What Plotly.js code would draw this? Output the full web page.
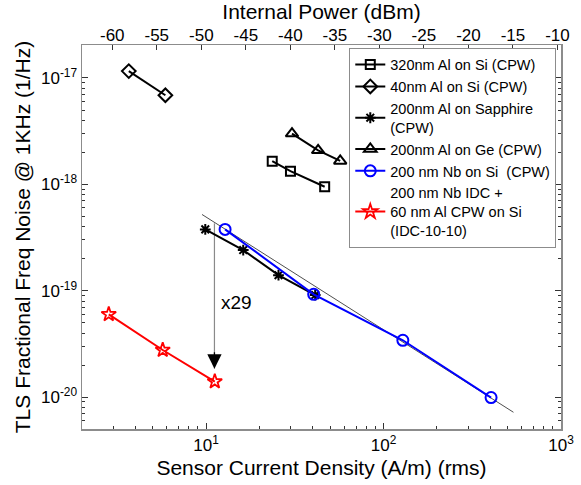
<!DOCTYPE html>
<html>
<head>
<meta charset="utf-8">
<script src="https://cdn.plot.ly/plotly-3.0.1.min.js"></script>
<style>html,body{margin:0;padding:0;background:#fff;}#chart{width:581px;height:485px;}</style>
</head>
<body>
<div id="chart"></div>
<script>
// ---- data ----
const al320X = [23.6, 29.9, 46.6];
const al320Y = [1.65e-18, 1.33e-18, 9.5e-19];

const al40X = [3.67, 5.90];
const al40Y = [1.16e-17, 6.88e-18];

const sapphireX = [9.9, 16.2, 25.6, 41.2];
const sapphireY = [3.77e-19, 2.41e-19, 1.40e-19, 9.1e-20];

const geX = [30.5, 42.8, 57.0];
const geY = [3.0e-18, 2.09e-18, 1.66e-18];

const nbX = [12.8, 40.4, 128.5, 403.6];
const nbY = [3.77e-19, 9.25e-20, 3.42e-20, 9.9e-21];

const idcX = [2.83, 5.70, 11.2];
const idcY = [6.0e-20, 2.77e-20, 1.40e-20];

const fitX = [9.49, 539.5];
const fitY = [5.21e-19, 7.2e-21];

const arrowX = [11.15, 11.15];
const arrowY = [4.3e-19, 1.85e-20];
const ratioLabel = 'x29';

const xTickVals = [10, 100, 1000];
const xTickText = ['10<sup>1</sup>', '10<sup>2</sup>', '10<sup>3</sup>'];
const yTickVals = [1e-20, 1e-19, 1e-18, 1e-17];
const yTickText = ['10<sup>-20</sup>', '10<sup>-19</sup>', '10<sup>-18</sup>', '10<sup>-17</sup>'];
const dbmTickVals = [-60, -55, -50, -45, -40, -35, -30, -25, -20, -15, -10];
const dbmTickText = ['-60', '-55', '-50', '-45', '-40', '-35', '-30', '-25', '-20', '-15', '-10'];

const names = [
  '320nm Al on Si (CPW)',
  '40nm Al on Si (CPW)',
  '200nm Al on Sapphire<br>(CPW)',
  '200nm Al on Ge (CPW)',
  '200 nm Nb on Si  (CPW)',
  '200 nm Nb IDC +<br>60 nm Al CPW on Si<br>(IDC-10-10)'
];

// ---- chart ----
const FONT = 'Arial, "Liberation Sans", sans-serif';
const frame = '#8c8c8c';

function series(x, y, name, color, symbol, size, mlw) {
  return {
    x: x, y: y, name: name, type: 'scatter', mode: 'lines+markers',
    line: {color: color, width: 2},
    marker: {symbol: symbol, size: size, color: color, line: {color: color, width: mlw}},
    hoverinfo: 'x+y'
  };
}

const traces = [
  {x: fitX, y: fitY, type: 'scatter', mode: 'lines', line: {color: '#000', width: 0.7},
   showlegend: false, hoverinfo: 'skip'},
  {x: arrowX, y: arrowY, type: 'scatter', mode: 'lines', line: {color: '#8a8a8a', width: 1.2},
   showlegend: false, hoverinfo: 'skip'},
  series(al320X, al320Y, names[0], '#000', 'square-open', 9, 2),
  series(al40X, al40Y, names[1], '#000', 'diamond-open', 10.5, 2),
  series(sapphireX, sapphireY, names[2], '#000', 'asterisk-open', 9, 2),
  series(geX, geY, names[3], '#000', 'triangle-up-open', 11, 2),
  series(nbX, nbY, names[4], '#0000ff', 'circle-open', 11, 2),
  series(idcX, idcY, names[5], '#ff0000', 'star-open', 11, 1.8),
  {x: [dbmTickVals[0], dbmTickVals[dbmTickVals.length - 1]], y: [1e-18, 1e-18],
   xaxis: 'x2', yaxis: 'y', type: 'scatter', mode: 'markers', marker: {opacity: 0},
   showlegend: false, hoverinfo: 'skip'}
];

const layout = {
  width: 581, height: 485,
  margin: {l: 82, r: 20, t: 44.5, b: 56, pad: 0},
  paper_bgcolor: '#fff', plot_bgcolor: '#fff',
  font: {family: FONT, color: '#000', size: 16},
  showlegend: true,
  legend: {
    x: 0.558, y: 0.993, xanchor: 'left', yanchor: 'top',
    bgcolor: '#fff', bordercolor: frame, borderwidth: 1,
    font: {family: FONT, size: 14.5, color: '#000'},
    tracegroupgap: 0, itemwidth: 30
  },
  xaxis: {
    type: 'log', range: [Math.log10(2), 3],
    tickmode: 'array', tickvals: xTickVals, ticktext: xTickText,
    ticks: 'inside', ticklen: 6, tickwidth: 1, tickcolor: '#333',
    minor: {ticks: 'inside', ticklen: 3, dtick: 'D1', tickcolor: '#333', tickwidth: 1},
    showline: true, linecolor: frame, linewidth: 1.5, mirror: true,
    showgrid: false, zeroline: false,
    tickfont: {family: FONT, size: 17},
    title: {text: 'Sensor Current Density (A/m) (rms)', font: {family: FONT, size: 21}, standoff: 6},
    automargin: false
  },
  xaxis2: {
    overlaying: 'x', side: 'top', anchor: 'y',
    range: [-63.4, -9.6],
    tickmode: 'array', tickvals: dbmTickVals, ticktext: dbmTickText,
    ticks: 'inside', ticklen: 5, tickwidth: 1, tickcolor: '#333',
    showline: false, showgrid: false, zeroline: false,
    tickfont: {family: FONT, size: 17},
    title: {text: 'Internal Power (dBm)', font: {family: FONT, size: 21}, standoff: 2},
    automargin: false
  },
  yaxis: {
    type: 'log', range: [-20.3, -16.69],
    tickmode: 'array', tickvals: yTickVals, ticktext: yTickText,
    ticks: 'inside', ticklen: 6, tickwidth: 1, tickcolor: '#333',
    minor: {ticks: 'inside', ticklen: 3, dtick: 'D1', tickcolor: '#333', tickwidth: 1},
    showline: true, linecolor: frame, linewidth: 1.5, mirror: 'ticks',
    showgrid: false, zeroline: false,
    tickfont: {family: FONT, size: 17},
    title: {text: 'TLS Fractional Freq Noise @ 1KHz (1/Hz)', font: {family: FONT, size: 21}, standoff: 4},
    automargin: false
  },
  annotations: [
    {x: Math.log10(arrowX[1]), y: Math.log10(arrowY[1]), xref: 'x', yref: 'y',
     ax: 0, ay: -18, showarrow: true, arrowhead: 2, arrowsize: 2.2, arrowwidth: 1.3,
     arrowcolor: '#000', text: ''},
    {x: Math.log10(14.8), y: Math.log10(7.8e-20), xref: 'x', yref: 'y', showarrow: false,
     text: ratioLabel, font: {family: FONT, size: 19, color: '#000'}}
  ]
};

Plotly.newPlot('chart', traces, layout, {displayModeBar: false, staticPlot: true});
</script>
</body>
</html>
